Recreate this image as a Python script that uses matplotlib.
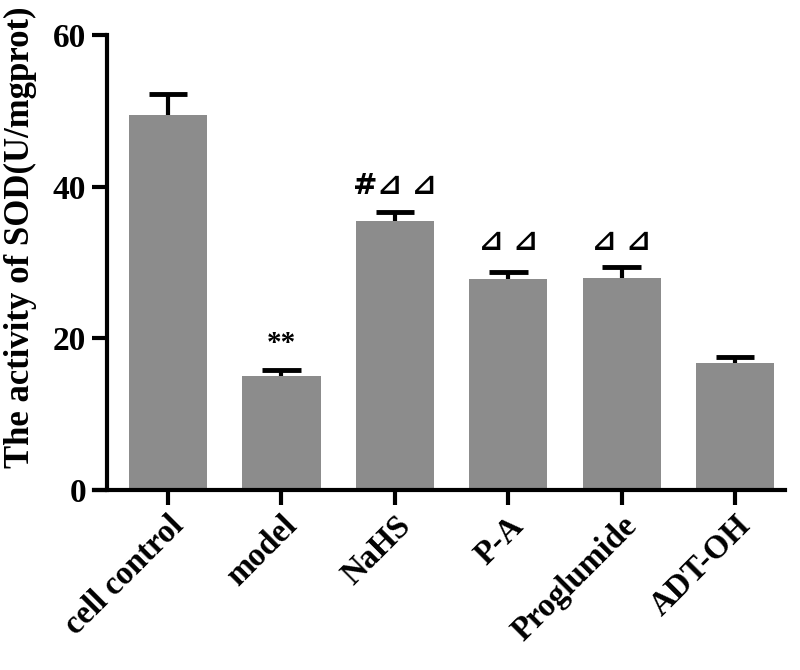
import matplotlib
matplotlib.use('Agg')
import matplotlib.pyplot as plt
import numpy as np

groups = ['cell control', 'model', 'NaHS', 'P-A', 'Proglumide', 'ADT-OH']
sod = [49.5, 15.0, 35.5, 27.8, 28.0, 16.8]
sem = [2.7, 0.8, 1.1, 0.9, 1.4, 0.8]
marks = ['', '**', '#⊿ ⊿', '⊿ ⊿', '⊿ ⊿', '']
mark_y = [0, 17.5, 38.3, 30.8, 30.8, 0]

plt.rcParams['font.family'] = ['Liberation Serif', 'DejaVu Serif', 'DejaVu Sans']
plt.rcParams['font.weight'] = 'bold'

fig = plt.figure(figsize=(8, 6.7), dpi=100)
ax = fig.add_axes([94 / 800, 1 - 490 / 670, (785 - 94) / 800, 455 / 670])

x = np.arange(len(groups))
ax.bar(x, sod, width=0.69, color='#8c8c8c', zorder=2)
# upper-only error bars, Prism style
tops = np.array(sod) + np.array(sem)
ax.vlines(x, sod, tops, color='black', lw=3, zorder=3)
ax.hlines(tops, x - 0.17, x + 0.17, color='black', lw=3.5, zorder=3)

for i, m in enumerate(marks):
    if m:
        ax.text(x[i], mark_y[i], m, ha='center', va='bottom', fontsize=21,
                fontweight='bold', family=['DejaVu Sans'] if '⊿' in m else None)

ax.set_xlim(-0.653, 5.44)
ax.set_ylim(0, 60)
ax.set_yticks([0, 20, 40, 60])
ax.spines['top'].set_visible(False)
ax.spines['right'].set_visible(False)
ax.spines['left'].set_position(('data', -0.54))
ax.spines['left'].set_linewidth(3)
ax.spines['bottom'].set_linewidth(3)
ax.tick_params(axis='both', width=3, length=11, labelsize=24)
ax.tick_params(axis='y', pad=4)
ax.set_xticks(x)
ax.set_xticklabels(groups, rotation=45, ha='right', rotation_mode='anchor',
                   fontsize=23.5, fontweight='bold')
for lab in ax.get_yticklabels():
    lab.set_fontweight('bold')
ax.set_ylabel('The activity of SOD(U/mgprot)', fontsize=25, fontweight='bold')
ax.yaxis.set_label_coords(-0.083, 0.556)

fig.savefig('out.png', dpi=100)
